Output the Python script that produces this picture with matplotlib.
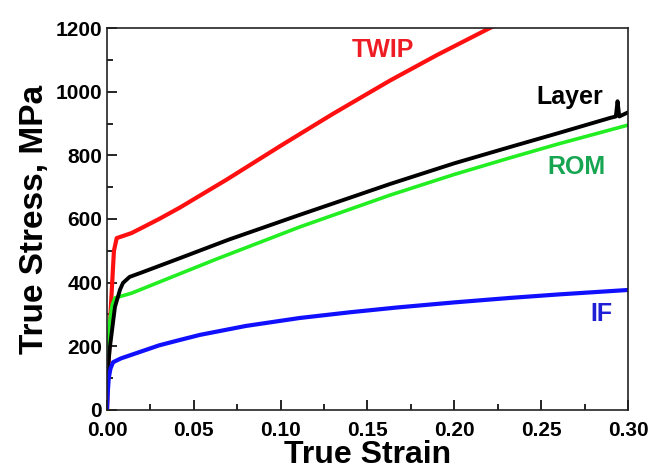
import matplotlib
matplotlib.use("Agg")
import matplotlib.pyplot as plt
from matplotlib.ticker import MultipleLocator, FormatStrFormatter

plt.rcParams['font.family'] = ['Liberation Sans', 'DejaVu Sans']
plt.rcParams['font.weight'] = 'bold'

# TWIP steel
twip_strain = [0, 0.0006, 0.002, 0.004, 0.0056, 0.010, 0.0142, 0.02, 0.03, 0.042,
               0.069, 0.1, 0.13, 0.163, 0.19, 0.2205, 0.23]
twip_stress = [0, 100, 300, 500, 540, 548, 556, 572, 600, 636,
               724, 830, 930, 1035, 1115, 1200, 1226]

# layered sample
layer_strain = [0, 0.0017, 0.0046, 0.0075, 0.0092, 0.013, 0.02, 0.042, 0.07, 0.111,
                0.14, 0.163, 0.2, 0.232, 0.26, 0.29, 0.293, 0.294, 0.295, 0.3]
layer_stress = [100, 198, 324, 378, 399, 418, 432, 477, 535, 613,
                667, 710, 775, 826, 870, 918, 922, 970, 922, 935]

# rule of mixtures
rom_strain = [0, 0.0008, 0.0017, 0.003, 0.0046, 0.0142, 0.042, 0.063, 0.111,
              0.163, 0.2, 0.232, 0.26, 0.3]
rom_stress = [100, 200, 283, 330, 352, 367, 428, 474, 575,
              675, 740, 792, 836, 895]

# IF steel
if_strain = [0, 0.0005, 0.001, 0.002, 0.0035, 0.008, 0.015, 0.03, 0.042, 0.0536,
             0.08, 0.111, 0.14, 0.167, 0.2, 0.232, 0.26, 0.3]
if_stress = [0, 60, 100, 130, 150, 162, 175, 203, 220, 236,
             264, 289, 307, 322, 338, 352, 363, 377]

labels = ["TWIP", "Layer", "ROM", "IF"]
label_x = [0.159, 0.2666, 0.2706, 0.2845]
label_y = [1131, 983, 763, 302]
label_colors = ["#ee1c24", "black", "#17a552", "#1f1fd6"]


def plot():
    fig = plt.figure(figsize=(6.5, 4.7), dpi=100)
    ax = fig.add_axes([0.1646, 0.1277, 0.8015, 0.8127])

    ax.plot(twip_strain, twip_stress, color="#ff1010", lw=3.0)
    ax.plot(rom_strain, rom_stress, color="#22ee22", lw=2.6)
    ax.plot(layer_strain, layer_stress, color="black", lw=2.8)
    ax.plot(if_strain, if_stress, color="#1010ff", lw=3.0)

    for t, x, y, c in zip(labels, label_x, label_y, label_colors):
        ax.text(x, y, t, color=c, fontsize=18, fontweight="bold", ha="center", va="center")

    ax.set_xlim(0, 0.30)
    ax.set_ylim(0, 1200)
    ax.xaxis.set_major_locator(MultipleLocator(0.05))
    ax.xaxis.set_minor_locator(MultipleLocator(0.025))
    ax.yaxis.set_major_locator(MultipleLocator(200))
    ax.yaxis.set_minor_locator(MultipleLocator(100))
    ax.xaxis.set_major_formatter(FormatStrFormatter("%.2f"))

    ax.tick_params(which="both", direction="in", top=False, right=False,
                   labelsize=15, width=1.2)
    ax.tick_params(which="major", length=7)
    ax.tick_params(which="minor", length=4)
    ax.tick_params(axis="x", pad=8)
    for lab in ax.get_xticklabels() + ax.get_yticklabels():
        lab.set_fontweight("bold")
    for sp in ax.spines.values():
        sp.set_linewidth(1.2)
        sp.set_color("#222222")

    ax.set_xlabel("True Strain", fontsize=23, fontweight="bold", labelpad=0)
    ax.set_ylabel("True Stress, MPa", fontsize=24, fontweight="bold", labelpad=4)

    fig.savefig("out.png", dpi=100)


def main():
    plot()


main()
